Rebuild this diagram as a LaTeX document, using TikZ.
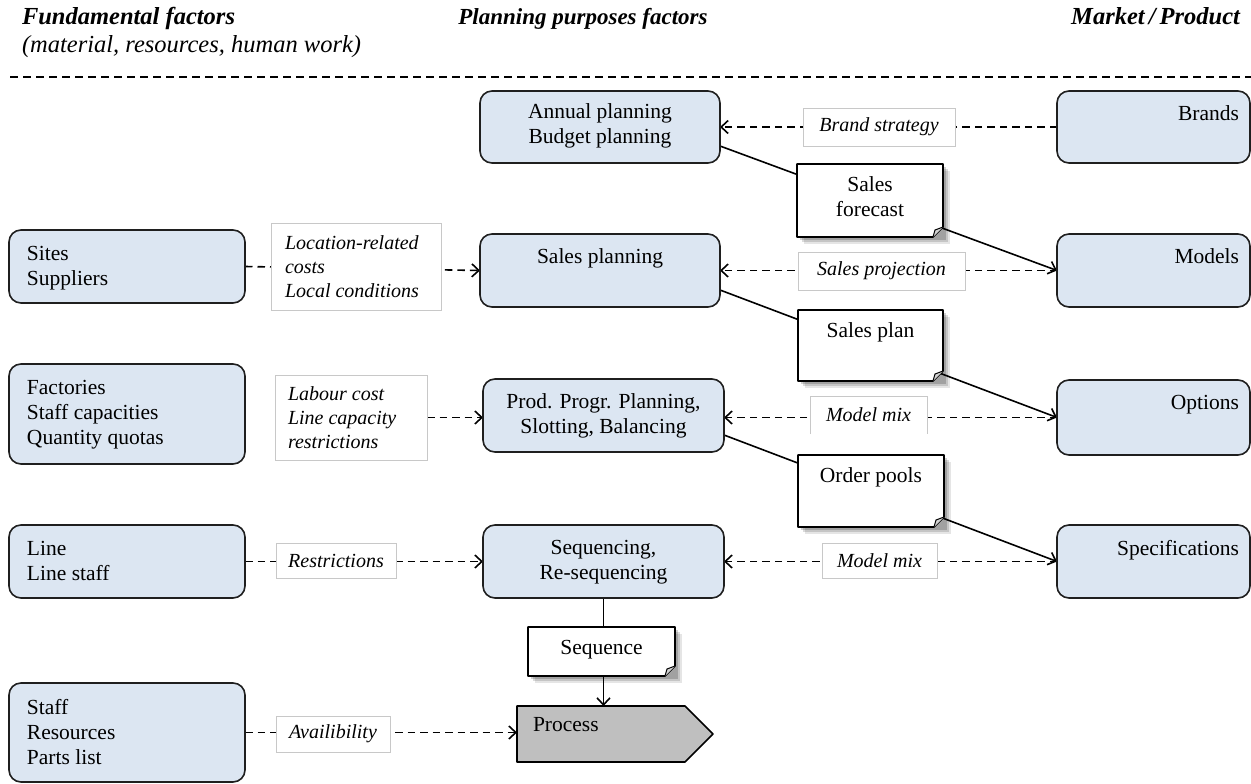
\documentclass[tikz,border=0pt]{standalone}
\usepackage{fontspec}
\setmainfont{Liberation Serif}
\usetikzlibrary{calc,arrows.meta}
\pgfdeclarelayer{bg}
\pgfsetlayers{bg,main}

\definecolor{boxblue}{HTML}{DCE6F2}
\definecolor{boxline}{HTML}{1F1F1F}
\definecolor{tagline}{HTML}{C8C8C8}
\definecolor{procgray}{HTML}{BFBFBF}

\tikzset{
  every node/.style={inner sep=0pt, outer sep=0pt},
  txt/.style={font=\fontsize{21.5}{25}\selectfont},
  itxt/.style={font=\fontsize{20}{24}\selectfont\itshape},
  htxt/.style={font=\fontsize{24.5}{28}\selectfont\bfseries\itshape},
  ubox/.style={draw=boxline, fill=boxblue, line width=1.6pt, rounded corners=12pt, anchor=north west},
  tagbox/.style={fill=white, anchor=north west, itxt, align=center},
  tagedge/.style={draw=tagline, line width=0.9pt},
  dline/.style={dash pattern=on 7.5pt off 5pt, line width=1.6pt},
  sline/.style={line width=1.6pt},
  arrowend/.style={-{Straight Barb[length=7pt,width=13pt]}},
}

% rounded planning box: name, x, y, width, height
\newcommand\planbox[5]{\node[ubox, minimum width=#4pt, minimum height=#5pt] (#1) at (#2,#3) {};}
% italic tag box: name, x, y, width, height, text
\newcommand\tagnote[6]{\node[tagbox, tagedge, minimum width=#4pt, minimum height=#5pt] (#1) at (#2,#3) {#6};}
% document with folded corner and shadow: name, x, y, width, height, text
\newcommand\docnote[6]{%
  \node[anchor=north west, minimum width=#4pt, minimum height=#5pt] (#1) at (#2,#3) {};
  \fill[black, opacity=0.10] ($(#1.north west)+(7,7)$) rectangle ($(#1.south east)+(7,7)$);
  \fill[black, opacity=0.14] ($(#1.north west)+(5,5)$) rectangle ($(#1.south east)+(5,5)$);
  \fill[black, opacity=0.18] ($(#1.north west)+(3,3)$) rectangle ($(#1.south east)+(3,3)$);
  \draw[line width=1.6pt, fill=white, line join=round]
    (#1.north west) -- (#1.north east) -- ($(#1.south east)+(0,-10)$)
    -- ($(#1.south east)+(-10,0)$) -- (#1.south west) -- cycle;
  \draw[line width=1pt, fill=gray!35, line join=round]
    ($(#1.south east)+(0,-10)$) -- ($(#1.south east)+(-8,-7)$) -- ($(#1.south east)+(-10,0)$);
  \node[txt, anchor=north, align=center] (#1t) at ($(#1.north)+(0,13)$) {#6};
}

\begin{document}
\begin{tikzpicture}[x=1pt, y=-1pt]
\useasboundingbox (0,0) rectangle (1251,784);

% column headings
\node[htxt, anchor=base west] (hFund) at (22,25) {Fundamental factors};
\node[font=\fontsize{24.5}{28}\selectfont\itshape, anchor=base west] (hFundSub) at (22,53) {(material, resources,\ human work)};
\node[htxt, font=\fontsize{23}{28}\selectfont\bfseries\itshape, anchor=base] (hPlan) at (583,25) {Planning purposes factors};
\node[htxt, anchor=base east] (hMkt) at (1240,25) {Market\,/\,Product};
\coordinate (divL) at (10,77);
\coordinate (divR) at (1251,77);
\draw[dash pattern=on 8pt off 5pt, line width=1.2pt] (divL) -- (divR);

% fundamental factors
\planbox{sites}{9}{230}{236}{73}
\planbox{fact}{9}{364}{236}{100}
\planbox{lineB}{9}{525}{236}{73}
\planbox{staff}{9}{683}{236}{99}
\node[txt, anchor=north west, align=left] (sitesT) at ($(sites.north west)+(18,16)$) {Sites\\Suppliers};
\node[txt, anchor=north west, align=left] (factT) at ($(fact.north west)+(18,16)$) {Factories\\Staff capacities\\Quantity quotas};
\node[txt, anchor=north west, align=left] (lineBT) at ($(lineB.north west)+(18,16)$) {Line\\Line staff};
\node[txt, anchor=north west, align=left] (staffT) at ($(staff.north west)+(18,16)$) {Staff\\Resources\\Parts list};

% planning steps
\planbox{annual}{480}{91}{240}{72}
\planbox{salesp}{480}{234}{240}{73}
\planbox{prod}{483}{379}{241}{73}
\planbox{seq}{483}{525}{241}{73}
\node[txt, anchor=north, align=center] (annualT) at ($(annual.north)+(0,13)$) {Annual planning\\Budget planning};
\node[txt, anchor=north, align=center] (salespT) at ($(salesp.north)+(0,15)$) {Sales planning};
\node[txt, anchor=north, align=center] (prodT) at ($(prod.north)+(0,15)$) {Prod. Progr. Planning,\\Slotting, Balancing};
\node[txt, anchor=north, align=center] (seqT) at ($(seq.north)+(0,15)$) {Sequencing,\\Re-sequencing};

% process step
\node[anchor=north west, minimum width=196pt, minimum height=56pt] (proc) at (517,706) {};
\draw[line width=1.6pt, fill=procgray, line join=round]
  (proc.north west) -- ($(proc.north east)+(-28,0)$) -- (proc.east)
  -- ($(proc.south east)+(-28,0)$) -- (proc.south west) -- cycle;
\node[txt, anchor=north west] (procT) at ($(proc.north west)+(16,11)$) {Process};

% market / product
\planbox{brands}{1057}{91}{193}{72}
\planbox{models}{1057}{234}{193}{73}
\planbox{options}{1057}{380}{193}{75}
\planbox{specs}{1057}{525}{193}{73}
\node[txt, anchor=north east] (brandsT) at ($(brands.north east)+(-11,15)$) {Brands};
\node[txt, anchor=north east] (modelsT) at ($(models.north east)+(-11,15)$) {Models};
\node[txt, anchor=north east] (optionsT) at ($(options.north east)+(-11,15)$) {Options};
\node[txt, anchor=north east] (specsT) at ($(specs.north east)+(-11,15)$) {Specifications};

% influence tags
\tagnote{lbBrand}{803}{108}{152}{38}{Brand strategy}
\tagnote{lbSalesProj}{798}{252}{167}{38}{Sales projection}
\tagnote{lbLoc}{271}{223}{170}{87}{\makebox[142pt][l]{Location-related}\\\makebox[142pt][l]{costs}\\\makebox[142pt][l]{Local conditions}}
\tagnote{lbLabour}{275}{375}{152}{85}{\makebox[126pt][l]{Labour cost}\\\makebox[126pt][l]{Line capacity}\\\makebox[126pt][l]{restrictions}}
\node[tagbox, minimum width=117pt, minimum height=38pt] (lbMix1) at (810,396) {Model mix};
\draw[tagedge] (lbMix1.south west) -- (lbMix1.north west) -- (lbMix1.north east) -- (lbMix1.south east);
\tagnote{lbRestr}{276}{543}{120}{35}{Restrictions}
\tagnote{lbMix2}{822}{543}{115}{35}{Model mix}
\tagnote{lbAvail}{276}{716}{114}{36}{Availibility}

% documents
\docnote{docSF}{797}{164}{146}{73}{Sales\\forecast}
\docnote{docSP}{798}{310}{145}{71}{Sales plan}
\docnote{docOP}{798}{455}{146}{72}{Order pools}
\docnote{docSeq}{528}{627}{147}{49}{Sequence}

% connectors
\begin{pgfonlayer}{bg}
\draw[dline, arrowend] (brands.west) -- (annual.east);
\draw[sline, arrowend] ($(annual.east)+(0,19)$) -- (models.west);
\draw[dline, arrowend] (models.west) -- (salesp.east);
\draw[dline, arrowend] (sites.east) -- (salesp.west);
\draw[sline, arrowend] ($(salesp.east)+(0,19.5)$) -- (options.west);
\draw[dline, arrowend] (options.west) -- (options.west -| prod.east);
\draw[dline, arrowend] (lbLabour.east) -- (lbLabour.east -| prod.west);
\draw[sline, arrowend] ($(prod.east)+(0,19.5)$) -- (specs.west);
\draw[dline, arrowend] (specs.west) -- (seq.east);
\draw[dline, arrowend] (lineB.east) -- (seq.west);
\draw[sline, arrowend] (seq.south) -- (seq.south |- proc.north);
\draw[dline, arrowend] (staff.east) -- (staff.east -| proc.west);
\end{pgfonlayer}
\end{tikzpicture}
\end{document}
